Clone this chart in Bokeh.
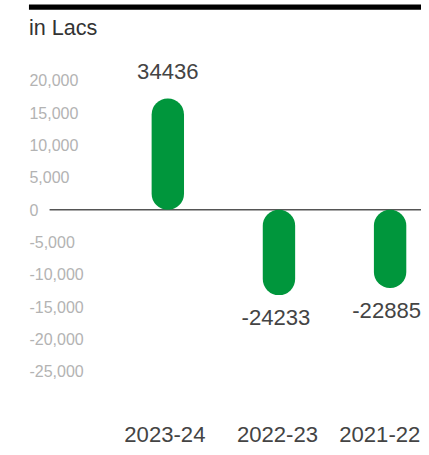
from bokeh.plotting import figure
from bokeh.models import Range1d, ColumnDataSource
from bokeh.core.properties import value
from bokeh.embed import file_html
from bokeh.resources import INLINE

# ---- data ----
categories = ["2023-24", "2022-23", "2021-22"]
values = [34436, -24233, -22885]            # labelled values
bar_ends = [17200, -13200, -12100]          # drawn bar ends
y_ticks = [20000, 15000, 10000, 5000, 0, -5000, -10000, -15000, -20000, -25000]
y_tick_labels = ["20,000", "15,000", "10,000", "5,000", "0", "-5,000",
                 "-10,000", "-15,000", "-20,000", "-25,000"]
unit_label = "in Lacs"

# ---- layout helpers (reference pixel -> data) ----
REF_W, REF_H = 429, 455
W, H = 421, 447
S = W / REF_W
X0_PAGE, X_UNIT = 170.5, 113.25
Y0_PAGE, Y_PX = 213.0, 0.00658
def px_x(px):
    return (px - X0_PAGE) / X_UNIT
def px_y(py):
    return (Y0_PAGE - py) / Y_PX
def fs(v):
    return f"{v * S:.1f}px"

FONT = value("Liberation Sans")
GREEN = "#00963c"

p = figure(width=W, height=H, output_backend="svg", toolbar_location=None,
           x_range=Range1d(px_x(0), px_x(REF_W)),
           y_range=Range1d(px_y(REF_H), px_y(0)),
           x_axis_location=None, y_axis_location=None, min_border=0)
p.outline_line_color = None
p.background_fill_color = "white"
p.border_fill_color = "white"
p.xgrid.grid_line_color = None
p.ygrid.grid_line_color = None

xs = list(range(len(categories)))

# top black rule
p.quad(left=[px_x(29)], right=[px_x(REF_W + 5)], top=[px_y(4)], bottom=[px_y(9.5)],
       fill_color="black", line_color=None)

# unit label
p.text(x=[px_x(29)], y=[px_y(27)], text=[unit_label], text_font=FONT,
       text_font_size=fs(22), text_color="#333333", text_align="left",
       text_baseline="middle")

# y tick labels
p.text(x=[px_x(29.5)] * len(y_ticks), y=y_ticks, text=y_tick_labels, text_font=FONT,
       text_font_size=fs(16.3), text_color="#b3b3b3", text_align="left",
       text_baseline="middle")

# zero line
p.segment(x0=[px_x(50)], x1=[px_x(REF_W + 5)], y0=[0], y1=[0],
          line_color="#555555", line_width=1.3)

# bars
src = ColumnDataSource(dict(
    x=xs, top=[max(b, 0) for b in bar_ends], bottom=[min(b, 0) for b in bar_ends],
    end=bar_ends, lab=[str(v) for v in values],
    yoff=[(-28 if v > 0 else 22.5) * S for v in values],
    xoff=[o * S for o in (0, -3, -3.5)],
))
p.vbar(x="x", top="top", bottom="bottom", width=33 / X_UNIT, source=src,
       fill_color=GREEN, line_color=None, border_radius=16)

# value labels
p.text(x="x", y="end", text="lab", x_offset="xoff", y_offset="yoff", source=src,
       text_font=FONT, text_font_size=fs(22.5), text_color="#444444",
       text_align="center", text_baseline="middle")

# category labels
cat_src = ColumnDataSource(dict(x=xs, y=[px_y(442)] * len(xs), t=categories,
                                xoff=[o * S for o in (-3, -1.5, -10.5)]))
p.text(x="x", y="y", text="t", x_offset="xoff", source=cat_src, text_font=FONT,
       text_font_size=fs(22.5), text_color="#444444", text_align="center",
       text_baseline="middle")

open("out.html", "w").write(file_html(p, INLINE))
